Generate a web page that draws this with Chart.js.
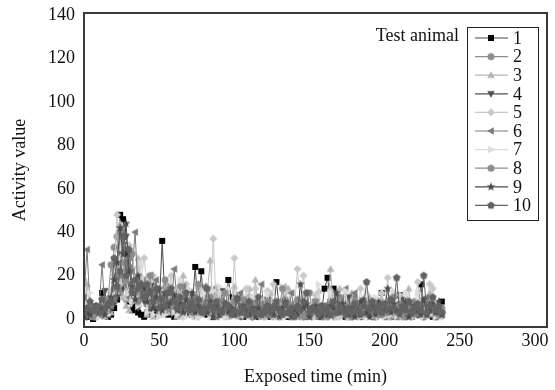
<!DOCTYPE html>
<html>
<head>
<meta charset="utf-8">
<script src="https://cdn.jsdelivr.net/npm/chart.js@4.4.1/dist/chart.umd.min.js"></script>
<style>
  html, body { margin: 0; padding: 0; background: #fff; }
  #wrap { width: 555px; height: 390px; }
</style>
</head>
<body>
<div id="wrap"><canvas id="activityChart" width="555" height="390"></canvas></div>
<script>
// exposure time (min), one reading every 2 min
const times = [
  0, 2, 4, 6, 8, 10, 12, 14, 16, 18, 20, 22, 24, 26, 28, 30, 32, 34, 36, 38,
  40, 42, 44, 46, 48, 50, 52, 54, 56, 58, 60, 62, 64, 66, 68, 70, 72, 74, 76, 78,
  80, 82, 84, 86, 88, 90, 92, 94, 96, 98, 100, 102, 104, 106, 108, 110, 112, 114, 116, 118,
  120, 122, 124, 126, 128, 130, 132, 134, 136, 138, 140, 142, 144, 146, 148, 150, 152, 154, 156, 158,
  160, 162, 164, 166, 168, 170, 172, 174, 176, 178, 180, 182, 184, 186, 188, 190, 192, 194, 196, 198,
  200, 202, 204, 206, 208, 210, 212, 214, 216, 218, 220, 222, 224, 226, 228, 230, 232, 234, 236, 238
];

const animalNames = ['1', '2', '3', '4', '5', '6', '7', '8', '9', '10'];

// activity values
const animal1 = [
  2,1,3,0,2,4,12,3,1,2,5,9,48,46,30,8,4,6,3,2,
  1,3,2,5,2,4,36,6,2,3,1,4,2,3,5,2,6,24,4,22,
  3,2,5,1,3,2,6,3,18,10,3,2,4,1,3,2,5,2,1,3,
  2,4,1,3,17,5,2,3,1,4,2,3,6,2,1,3,2,4,1,3,
  14,19,8,14,3,2,4,1,3,2,5,2,1,3,2,4,1,3,2,12,
  4,2,3,1,5,11,3,2,4,1,3,2,16,4,2,3,1,4,2,8
];
const animal2 = [
  1,3,2,4,1,2,5,3,6,10,33,38,12,42,9,28,16,14,18,10,
  18,9,12,6,14,8,5,13,15,7,10,6,9,5,11,12,7,10,4,8,
  6,9,4,11,14,3,8,5,7,3,9,4,6,3,8,10,3,6,4,7,
  5,3,8,4,6,2,5,9,2,4,7,3,6,5,2,12,3,7,4,2,
  6,2,4,8,3,2,5,7,1,3,10,2,6,4,3,8,5,1,3,6,
  2,7,1,3,6,5,1,3,8,4,8,2,5,1,4,7,3,1,5,3
];
const animal3 = [
  3,16,2,1,3,2,4,1,5,3,8,12,44,10,6,4,9,15,28,14,
  13,2,15,1,13,2,4,16,3,12,4,1,3,20,4,12,3,1,15,2,
  3,12,27,4,1,13,2,4,1,3,15,2,1,3,2,14,1,18,3,2,
  1,3,12,4,1,3,2,15,14,3,1,2,4,11,3,2,4,1,13,2,
  4,2,23,3,1,14,2,3,1,12,4,1,3,2,4,10,2,1,3,12,
  4,1,3,12,5,1,3,2,14,1,3,2,4,1,3,12,2,1,3,2
];
const animal4 = [
  2,1,3,2,6,4,2,13,3,5,7,10,30,14,38,12,16,13,5,12,
  8,11,3,16,9,4,12,3,7,5,10,10,3,6,4,9,3,2,5,8,
  3,6,4,1,7,2,13,3,5,4,2,6,1,4,8,3,1,5,2,3,
  1,9,3,6,4,1,3,7,5,1,3,2,6,1,3,5,4,8,2,1,
  3,6,4,1,3,7,4,1,10,3,6,4,1,3,7,5,1,3,6,4,
  1,3,8,4,1,3,9,2,4,6,3,2,5,1,7,2,4,1,3,2
];
const animal5 = [
  18,4,2,3,1,4,6,3,8,12,20,48,16,22,10,34,8,16,24,19,
  28,16,13,20,14,8,13,5,12,20,4,12,6,1,16,13,2,4,1,13,
  12,4,6,37,5,12,3,1,4,2,28,6,3,2,14,3,1,14,2,3,
  1,13,2,16,4,1,3,12,4,1,5,23,6,20,3,2,4,11,3,2,
  4,1,13,2,5,1,10,2,4,1,3,2,14,1,3,2,5,1,3,12,
  6,19,3,2,4,11,3,2,4,1,5,17,3,2,4,16,14,3,2,1
];
const animal6 = [
  10,32,6,3,2,5,25,4,2,6,9,14,20,40,16,10,22,40,12,15,
  13,6,20,9,18,3,12,5,10,4,23,8,5,15,6,3,10,4,8,3,
  15,3,7,4,1,9,2,5,6,3,2,4,12,2,6,1,4,8,3,16,
  2,4,1,6,2,5,9,3,2,12,3,1,4,7,3,1,4,2,6,1,
  4,7,3,1,5,2,9,14,4,2,12,3,6,4,2,8,1,4,2,7,
  1,4,6,3,1,5,2,8,1,4,2,6,3,4,10,2,5,1,4,2
];
const animal7 = [
  3,5,12,2,4,1,3,6,2,8,15,22,28,36,18,12,8,14,6,26,
  15,3,17,2,14,1,13,2,5,11,3,2,18,4,1,13,2,5,1,3,
  12,4,1,13,2,15,3,1,14,2,3,1,5,2,3,1,10,2,4,1,
  3,12,4,1,3,2,15,1,3,2,4,1,3,12,5,1,3,2,16,3,
  1,4,12,3,1,5,2,13,1,4,2,3,1,4,12,3,1,10,2,3,
  1,4,2,13,1,5,2,12,3,1,4,12,3,1,4,2,3,1,2,3
];
const animal8 = [
  4,2,5,1,3,6,2,4,9,25,14,20,40,26,18,24,30,12,8,15,
  10,14,20,6,13,8,11,18,5,12,6,9,15,4,8,6,3,10,16,4,
  7,5,10,3,4,8,5,12,6,3,8,2,5,9,5,2,7,4,6,2,
  3,8,4,2,6,5,14,3,7,4,2,9,5,1,6,2,3,8,4,2,
  5,1,7,2,3,10,4,6,3,1,8,2,5,3,7,2,4,6,4,2,
  3,6,4,10,3,7,4,1,5,2,7,4,3,8,2,4,6,3,2,5
];
const animal9 = [
  1,3,2,4,6,3,5,2,6,10,18,26,42,30,44,22,15,9,20,16,
  14,8,13,5,10,14,4,12,6,8,11,4,7,3,9,5,12,3,6,4,
  5,3,8,1,6,2,4,7,3,5,2,10,3,6,4,2,5,1,5,2,
  3,6,4,2,5,1,5,8,3,1,4,2,16,5,7,1,4,6,3,1,
  4,2,6,5,12,3,7,4,2,5,1,4,8,9,3,1,6,2,8,3,
  4,14,3,7,4,2,5,8,1,3,6,4,2,9,2,4,7,3,8,2
];
const animal10 = [
  3,5,8,4,6,3,9,5,7,8,28,15,22,38,20,32,12,18,14,16,
  10,16,12,8,14,5,9,6,12,14,8,5,10,6,12,4,7,5,9,3,
  4,14,6,5,8,4,3,7,6,2,4,9,3,5,2,8,4,3,10,2,
  4,6,3,5,8,4,2,7,3,5,1,6,4,8,12,3,5,4,2,6,
  3,5,2,8,3,6,4,2,5,3,7,4,2,6,17,5,8,4,6,3,
  7,4,9,5,19,3,6,4,8,3,5,7,4,20,3,6,10,4,6,3
];

const xTicks = [0, 50, 100, 150, 200, 250, 300];
const yTicks = [0, 20, 40, 60, 80, 100, 120, 140];

const allSeries = [animal1, animal2, animal3, animal4, animal5, animal6, animal7, animal8, animal9, animal10];
const markerColors = ['#000000', '#8c8c8c', '#b4b4b4', '#505050', '#c8c8c8', '#7a7a7a', '#dcdcdc', '#8c8c8c', '#4a4a4a', '#626262'];
const lineColors = ['#4a4a4a', '#8c8c8c', '#b4b4b4', '#505050', '#c8c8c8', '#7a7a7a', '#dcdcdc', '#8c8c8c', '#4a4a4a', '#626262'];
const shapes = ['square', 'circle', 'up', 'down', 'diamond', 'left', 'right', 'circle', 'star', 'pentagon'];

const serif = '"Liberation Serif", "Times New Roman", serif';

// draw one marker shape centred on (0,0)
function shapePath(ctx, shape) {
  ctx.beginPath();
  if (shape === 'square') {
    ctx.rect(-3, -3, 6, 6);
  } else if (shape === 'circle') {
    ctx.arc(0, 0, 3.5, 0, Math.PI * 2);
  } else if (shape === 'up') {
    ctx.moveTo(0, -4); ctx.lineTo(3.8, 2.8); ctx.lineTo(-3.8, 2.8);
  } else if (shape === 'down') {
    ctx.moveTo(0, 4); ctx.lineTo(3.8, -2.8); ctx.lineTo(-3.8, -2.8);
  } else if (shape === 'left') {
    ctx.moveTo(-4, 0); ctx.lineTo(2.8, -3.8); ctx.lineTo(2.8, 3.8);
  } else if (shape === 'right') {
    ctx.moveTo(4, 0); ctx.lineTo(-2.8, -3.8); ctx.lineTo(-2.8, 3.8);
  } else if (shape === 'diamond') {
    ctx.moveTo(0, -4); ctx.lineTo(4, 0); ctx.lineTo(0, 4); ctx.lineTo(-4, 0);
  } else if (shape === 'star') {
    for (let k = 0; k < 10; k++) {
      const r = k % 2 === 0 ? 4.6 : 1.9;
      const a = -Math.PI / 2 + k * Math.PI / 5;
      const px = r * Math.cos(a), py = r * Math.sin(a);
      if (k === 0) ctx.moveTo(px, py); else ctx.lineTo(px, py);
    }
  } else if (shape === 'pentagon') {
    for (let k = 0; k < 5; k++) {
      const a = -Math.PI / 2 + k * 2 * Math.PI / 5;
      const px = 4 * Math.cos(a), py = 4 * Math.sin(a);
      if (k === 0) ctx.moveTo(px, py); else ctx.lineTo(px, py);
    }
  }
  ctx.closePath();
}

function makeMarker(shape, color) {
  const c = document.createElement('canvas');
  c.width = 10; c.height = 10;
  const g = c.getContext('2d');
  g.translate(5, 5);
  shapePath(g, shape);
  g.fillStyle = color;
  g.fill();
  return c;
}

const markers = shapes.map((s, i) => makeMarker(s, markerColors[i]));

const datasets = allSeries.map((vals, i) => ({
  label: animalNames[i],
  data: times.map((t, j) => ({ x: t, y: vals[j] })),
  borderColor: lineColors[i],
  backgroundColor: markerColors[i],
  borderWidth: 1,
  pointStyle: markers[i],
  pointRadius: 4,
  tension: 0,
  order: 9 - i
}));

// frame round the plot plus the boxed legend inside it
const frameLegend = {
  id: 'frameLegend',
  afterDraw(chart) {
    const { ctx, chartArea: a } = chart;
    ctx.save();
    ctx.strokeStyle = '#3a3a3a';
    ctx.lineWidth = 2;
    ctx.strokeRect(a.left, a.top, a.right - a.left, a.bottom - a.top);

    const boxL = 467, boxT = 27, boxR = 538, boxB = 220;
    ctx.fillStyle = '#fff';
    ctx.fillRect(boxL, boxT, boxR - boxL, boxB - boxT);
    ctx.strokeStyle = '#222';
    ctx.lineWidth = 1;
    ctx.strokeRect(boxL + 0.5, boxT + 0.5, boxR - boxL, boxB - boxT);

    ctx.font = '18px ' + serif;
    ctx.fillStyle = '#111';
    ctx.textBaseline = 'middle';
    ctx.textAlign = 'right';
    ctx.fillText('Test animal', 459, 36);

    ctx.textAlign = 'left';
    animalNames.forEach((name, i) => {
      const y = 38 + i * 18.6;
      ctx.strokeStyle = lineColors[i];
      ctx.lineWidth = 1.2;
      ctx.beginPath();
      ctx.moveTo(475, y); ctx.lineTo(508, y);
      ctx.stroke();
      ctx.drawImage(markers[i], 491 - 5, y - 5);
      ctx.fillStyle = '#111';
      ctx.fillText(name, 513, y + 1);
    });
    ctx.restore();
  }
};

const tickFont = { family: serif, size: 18 };

new Chart(document.getElementById('activityChart'), {
  type: 'line',
  data: { datasets: datasets },
  options: {
    responsive: false,
    animation: false,
    layout: { padding: { top: 13, right: 8, left: 0, bottom: 0 } },
    plugins: {
      legend: { display: false },
      tooltip: { enabled: false }
    },
    scales: {
      x: {
        type: 'linear',
        min: 0,
        max: 308,
        afterFit(s) { s.height = 63; s.paddingLeft = 0; s.paddingRight = 0; },
        afterBuildTicks(s) { s.ticks = xTicks.map(v => ({ value: v })); },
        grid: { display: false, drawTicks: false },
        border: { display: false },
        ticks: { font: tickFont, color: '#111', padding: 3, maxRotation: 0, autoSkip: false },
        title: { display: true, text: 'Exposed time (min)', font: tickFont, color: '#111', padding: { top: 0, bottom: 2 } }
      },
      y: {
        type: 'linear',
        min: -3.7,
        max: 141,
        afterFit(s) { s.width = 84; s.paddingTop = 0; s.paddingBottom = 0; },
        afterBuildTicks(s) { s.ticks = yTicks.map(v => ({ value: v })); },
        grid: { display: false, drawTicks: false },
        border: { display: false },
        ticks: { font: tickFont, color: '#111', padding: 9, autoSkip: false },
        title: { display: true, text: 'Activity value', font: tickFont, color: '#111', padding: { top: 9, bottom: 0 } }
      }
    }
  },
  plugins: [frameLegend]
});
</script>
</body>
</html>
